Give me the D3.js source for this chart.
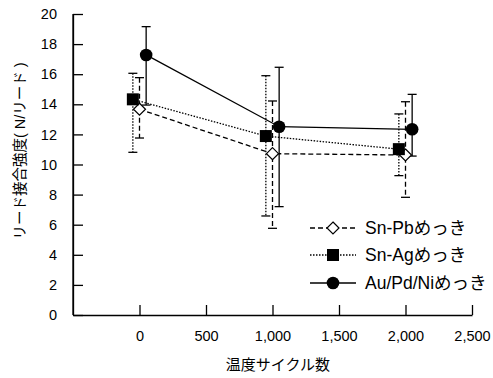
<!DOCTYPE html>
<html><head><meta charset="utf-8">
<script src="https://cdn.jsdelivr.net/npm/d3@7"></script>
<style>
body{margin:0;background:#fff;}
text{font-family:"Liberation Sans","Noto Sans CJK JP",sans-serif;fill:#000;}
</style></head><body>
<svg id="c" width="493" height="378"></svg>
<script>
const cycles = [0, 1000, 2000];
const seriesNames = ["Sn-Pbめっき", "Sn-Agめっき", "Au/Pd/Niめっき"];
const offsets = [0, -50, 50];
const snPb = [13.67, 10.72, 10.63];
const snPbHi = [15.77, 14.22, 14.17];
const snPbLo = [11.76, 5.76, 7.82];
const snAg = [14.33, 11.89, 11.02];
const snAgHi = [16.06, 15.9, 13.36];
const snAgLo = [10.81, 6.58, 9.26];
const auPdNi = [17.28, 12.51, 12.34];
const auPdNiHi = [19.16, 16.46, 14.66];
const auPdNiLo = [13.95, 7.2, 10.56];
const xTicks = [0, 500, 1000, 1500, 2000, 2500];
const yTicks = [0, 2, 4, 6, 8, 10, 12, 14, 16, 18, 20];
const xTitle = "温度サイクル数";
const yTitle = "リード接合強度( N/リード )";

const svg = d3.select("#c");
const x = d3.scaleLinear().domain([-500, 2500]).range([73, 472]);
const y = d3.scaleLinear().domain([0, 20]).range([315, 14]);

const styles = [
  {dash:"5,3", marker:"diamond"},
  {dash:"1.5,1.5", marker:"square"},
  {dash:null, marker:"circle"}
];
const vals = [snPb, snAg, auPdNi], his = [snPbHi, snAgHi, auPdNiHi], los = [snPbLo, snAgLo, auPdNiLo];

// axes
const yAxis = d3.axisLeft(y).tickValues(yTicks).tickSizeInner(-10).tickSizeOuter(0).tickPadding(16);
const gy = svg.append("g").attr("transform","translate(73,0)").call(yAxis);
gy.selectAll("text").attr("font-size","14.5px");
const xAxis = d3.axisBottom(x).tickValues(xTicks).tickSizeInner(-10).tickSizeOuter(0).tickPadding(16).tickFormat(d3.format(","));
const gx = svg.append("g").attr("transform","translate(0,315)").call(xAxis);
gx.selectAll("text").attr("font-size","14.5px");
[gx, gy].forEach(g => { g.selectAll("path,line").attr("stroke","#000").attr("stroke-width",1.3); });
svg.append("line").attr("x1",73).attr("x2",73).attr("y1",y(20)).attr("y2",y(0)).attr("stroke","#000").attr("stroke-width",1.3);

svg.append("text").attr("x",278).attr("y",370).attr("text-anchor","middle").attr("font-size","15px").text(xTitle);
svg.append("text").attr("transform","translate(25,151) rotate(-90)").attr("text-anchor","middle").attr("font-size","14.5px").text(yTitle);

function drawMarker(g, type, cx, cy) {
  if (type === "diamond") {
    g.append("path").attr("d",`M${cx},${cy-6}L${cx+6},${cy}L${cx},${cy+6}L${cx-6},${cy}Z`).attr("fill","#fff").attr("stroke","#000").attr("stroke-width",1.2);
  } else if (type === "square") {
    g.append("rect").attr("x",cx-6).attr("y",cy-6).attr("width",12).attr("height",12).attr("fill","#000");
  } else {
    g.append("circle").attr("cx",cx).attr("cy",cy).attr("r",6.3).attr("fill","#000");
  }
}

const plot = svg.append("g");
vals.forEach((v, s) => {
  const st = styles[s];
  const g = plot.append("g");
  const pts = cycles.map((c, i) => [x(c + offsets[s]), y(v[i])]);
  g.append("path").attr("d", d3.line()(pts)).attr("fill","none").attr("stroke","#000").attr("stroke-width",1.3).attr("stroke-dasharray", st.dash);
  cycles.forEach((c, i) => {
    const cx = x(c + offsets[s]);
    g.append("line").attr("x1",cx).attr("x2",cx).attr("y1",y(his[s][i])).attr("y2",y(los[s][i])).attr("stroke","#000").attr("stroke-width",1.3).attr("stroke-dasharray", st.dash);
    [his[s][i], los[s][i]].forEach(e => {
      g.append("line").attr("x1",cx-4.5).attr("x2",cx+4.5).attr("y1",y(e)).attr("y2",y(e)).attr("stroke","#000").attr("stroke-width",1.3);
    });
  });
});
vals.forEach((v, s) => {
  cycles.forEach((c, i) => drawMarker(plot, styles[s].marker, x(c + offsets[s]), y(v[i])));
});

// legend
const legY = [228, 255, 283];
seriesNames.forEach((n, s) => {
  const g = svg.append("g");
  g.append("line").attr("x1",310).attr("x2",356).attr("y1",legY[s]).attr("y2",legY[s]).attr("stroke","#000").attr("stroke-width",1.3).attr("stroke-dasharray", styles[s].dash);
  drawMarker(g, styles[s].marker, 333, legY[s]);
  g.append("text").attr("x",365).attr("y",legY[s]).attr("dy","0.35em").attr("font-size","17.5px").text(n);
});
</script></body></html>
